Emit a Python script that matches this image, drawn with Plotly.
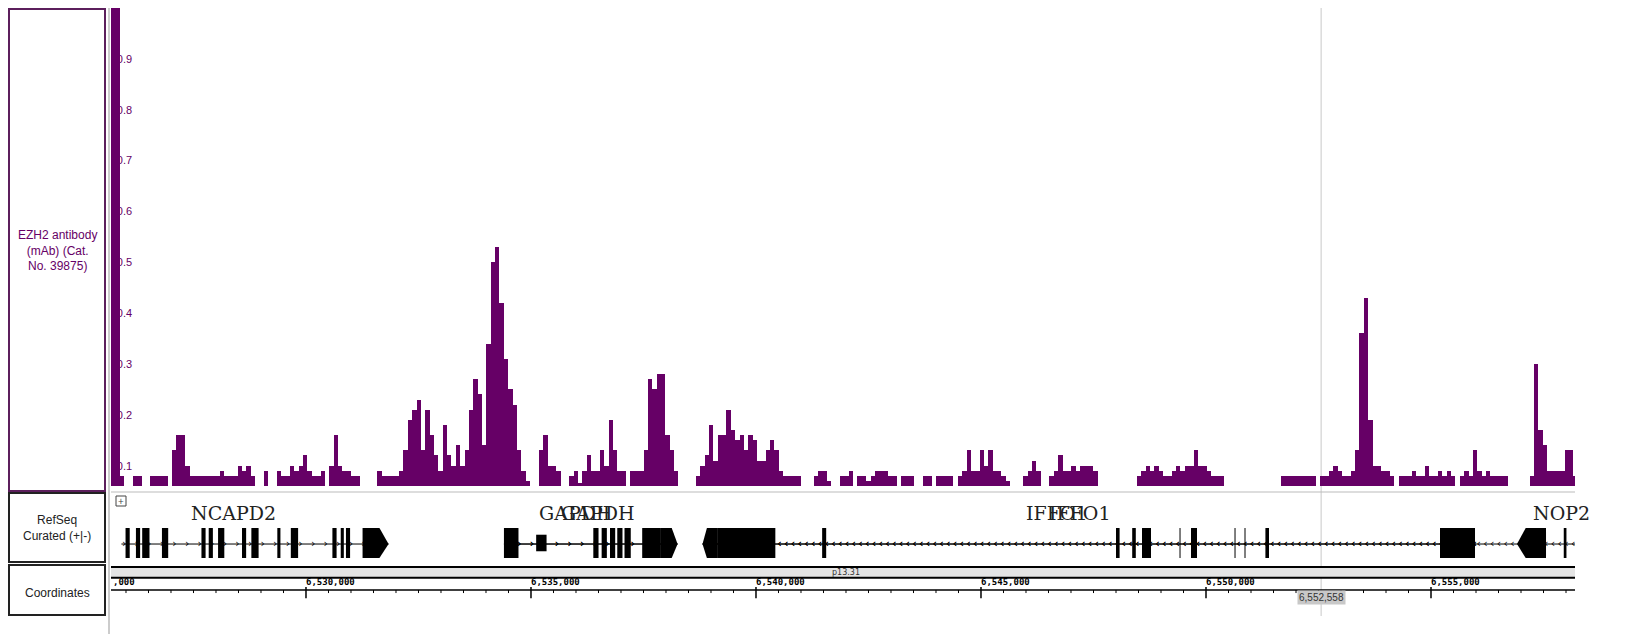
import plotly.graph_objects as go

W, H = 1629, 634
# ---------------- data ----------------
track_label = "EZH2 antibody<br>(mAb) (Cat.<br>No. 39875)"
view_start, view_end = 6525667, 6558200
bin_size = 97
cursor_pos = 6552558
signal = [
 1.05,1.05,0.08,0,0,0.08,0.08,0,0,0.08,0.08,0.08,0.08,0,0.13,0.16,0.16,0.10,
 0.08,0.08,0.08,0.08,0.08,0.08,0.08,0.09,0.08,0.08,0.08,0.10,0.09,0.10,0.08,0,0,
 0.09,0,0,0.09,0.08,0.08,0.10,0.09,0.10,0.12,0.09,0.08,0.08,0.09,0,0.10,0.16,0.10,
 0.09,0.09,0.08,0.08,0,0,0,0,0.09,0.08,0.08,0.08,0.08,0.09,0.13,0.19,0.21,0.23,
 0.13,0.21,0.16,0.12,0.09,0.18,0.12,0.10,0.14,0.10,0.13,0.21,0.27,0.24,0.14,0.34,
 0.50,0.53,0.42,0.31,0.25,0.22,0.13,0.09,0.07,0,0,0.13,0.16,0.10,0.10,0.09,0,0,
 0.08,0.09,0.065,0.09,0.12,0.09,0.09,0.13,0.10,0.19,0.13,0.09,0.09,0,0.09,0.09,
 0.09,0.13,0.27,0.25,0.28,0.28,0.16,0.13,0.09,0,0,0,0,0.08,0.10,0.12,0.18,0.11,
 0.16,0.16,0.21,0.17,0.15,0.16,0.13,0.16,0.15,0.11,0.11,0.13,0.15,0.13,0.09,0.08,
 0.08,0.08,0.08,0,0,0,0.08,0.09,0.09,0.07,0,0,0.08,0.08,0.09,0,0.08,0.08,0.07,
 0.08,0.09,0.09,0.09,0.08,0.08,0,0.08,0.08,0.08,0,0,0.08,0.08,0,0.08,0.08,0.08,
 0.08,0,0.08,0.09,0.13,0.09,0.09,0.13,0.10,0.13,0.09,0.09,0.08,0.07,0,0,0,0.08,
 0.09,0.11,0.09,0,0,0.08,0.09,0.12,0.09,0.09,0.10,0.09,0.10,0.10,0.10,0.09,0,
 0,0,0,0,0,0,0,0,0.08,0.09,0.10,0.09,0.10,0.09,0.08,0.08,0.09,0.10,0.09,0.10,0.10,
 0.13,0.10,0.10,0.09,0.08,0.08,0.08,0,0,0,0,0,0,0,0,0,0,0,0,0,
 0.08,0.08,0.08,0.08,0.08,0.08,0.08,0.08,0,0.08,0.08,0.09,0.10,0.09,0.08,0.08,0.09,
 0.13,0.36,0.43,0.19,0.10,0.10,0.09,0.09,0.08,0,0.08,0.08,0.08,0.09,0.08,0.08,0.10,
 0.08,0.08,0.09,0.08,0.09,0.08,0,0.08,0.09,0.08,0.13,0.09,0.08,0.09,0.08,0.08,0.08,
 0.08,0,0,0,0,0,0.08,0.30,0.17,0.14,0.09,0.09,0.09,0.09,0.13,0.13,0.08,0,0,0,0,
]
y_ticks = [0.1,0.2,0.3,0.4,0.5,0.6,0.7,0.8,0.9]

# genes: (name, strand, line start, line end, label pos)
genes = [
 ("NCAPD2", "+", 6525898, 6531835, 6528400),
 ("GAPDH", "+", 6534399, 6538257, 6536000),
 ("GAPDH", "+", 6534399, 6538257, 6536500),
 ("IFFO1", "-", 6538812, 6556000, 6546700),
 ("IFFO1", "-", 6538812, 6556000, 6547200),
 ("NOP2", "-", 6556000, 6558200, 6557900),
]
exon_start = [6525990,6526221,6526360,6526799,6527677,6527838,6528046,6528578,6528786,
              6529363,6529663,6530587,6530772,6530888,6531257,
              6534399,6536385,6536570,6536755,6536917,6537078,6537471,6537887,
              6538812,6539136,6541470,6548000,6548360,6548578,6549667,6551320,6555200,
              6556911,6557950]
exon_end   = [6526083,6526314,6526522,6526938,6527769,6527931,6528185,6528670,6528947,
              6529432,6529825,6530680,6530841,6530980,6531835,
              6534722,6536501,6536686,6536871,6537033,6537217,6537887,6538257,
              6539136,6540430,6541560,6548080,6548440,6548778,6549800,6551400,6555978,
              6557556,6558010]
exon_kind  = ["e"]*14 + ["utr_r"] + ["e"]*7 + ["arrow_r"] + ["arrow_l"] + ["e"]*8 + ["arrow_le"] + ["e"]
small_exon = [(6535115, 6535346)]
thin_exon = [6549423, 6550645, 6550867]
ruler_major = [6530000, 6535000, 6540000, 6545000, 6550000, 6555000]
band_label = "p13.31"

# ---------------- figure ----------------
def px_x(x): return x / W
def px_y(y): return 1 - y / H

PX0, PX1 = 103, 1567
fig = go.Figure()
xs = [view_start + bin_size * i + bin_size / 2 for i in range(len(signal))]
fig.add_trace(go.Bar(x=xs, y=signal, width=bin_size, marker=dict(color="#660066", line_width=0),
                     xaxis="x", yaxis="y", showlegend=False))

GL = 0.275
for name, strand, s, e, lab in genes:
    fig.add_trace(go.Scatter(x=[s, e], y=[GL, GL], mode="lines", line=dict(color="black", width=1),
                             xaxis="x2", yaxis="y2", showlegend=False, hoverinfo="skip"))
    step = 150 if strand == "-" else 280
    pts = list(range(s + 60, e, step))
    fig.add_trace(go.Scatter(x=pts, y=[GL] * len(pts), mode="text", text=["‹" if strand == "-" else "›"] * len(pts),
                             textfont=dict(size=11, color="black", family="DejaVu Sans"),
                             xaxis="x2", yaxis="y2", showlegend=False, hoverinfo="skip"))
for name, strand, s, e, lab in genes:
    fig.add_annotation(x=lab, y=0.72, xref="x2", yref="y2", text=name, showarrow=False,
                       font=dict(family="DejaVu Serif", size=19, color="#222"), xanchor="center")

shapes = []
top, bot = 0.507, 0.072
for s, e, k in zip(exon_start, exon_end, exon_kind):
    if k == "e":
        shapes.append(dict(type="rect", xref="x2", yref="y2", x0=s, x1=e, y0=bot, y1=top, fillcolor="black", line_width=0))
    elif k in ("utr_r", "arrow_r"):
        tip = (e - s) * 0.35
        path = f"M{s},{bot} L{e-tip},{bot} L{e},{GL} L{e-tip},{top} L{s},{top} Z"
        shapes.append(dict(type="path", xref="x2", yref="y2", path=path, fillcolor="black", line_width=0))
    else:
        tip = min((e - s) * 0.3, 300)
        path = f"M{e},{bot} L{s+tip},{bot} L{s},{GL} L{s+tip},{top} L{e},{top} Z"
        shapes.append(dict(type="path", xref="x2", yref="y2", path=path, fillcolor="black", line_width=0))
for s, e in small_exon:
    shapes.append(dict(type="rect", xref="x2", yref="y2", x0=s, x1=e, y0=0.17, y1=0.41, fillcolor="black", line_width=0))
for t in thin_exon:
    shapes.append(dict(type="line", xref="x2", yref="y2", x0=t, x1=t, y0=bot, y1=top, line=dict(color="black", width=1)))

# coordinates track
shapes += [
    dict(type="rect", xref="paper", yref="y3", x0=px_x(PX0), x1=px_x(PX1), y0=0.76, y1=0.95, fillcolor="#e4e4e4", line_width=0),
    dict(type="line", xref="paper", yref="y3", x0=px_x(PX0), x1=px_x(PX1), y0=0.96, y1=0.96, line=dict(color="black", width=2)),
    dict(type="line", xref="paper", yref="y3", x0=px_x(PX0), x1=px_x(PX1), y0=0.75, y1=0.75, line=dict(color="black", width=2)),
    dict(type="line", xref="paper", yref="y3", x0=px_x(PX0), x1=px_x(PX1), y0=0.51, y1=0.51, line=dict(color="black", width=1.5)),
]
minor = list(range(6526000, view_end, 500))
for m in minor:
    big = m in ruler_major
    shapes.append(dict(type="line", xref="x3", yref="y3", x0=m, x1=m,
                       y0=0.35 if big else 0.45, y1=0.57 if big else 0.51,
                       line=dict(color="black", width=1.5 if big else 1)))
for m in ruler_major:
    fig.add_annotation(x=m, y=0.66, xref="x3", yref="y3", text=f"<b>{m:,}</b>", showarrow=False, xanchor="left",
                       font=dict(family="DejaVu Sans Mono", size=9, color="black"), xshift=-2)
fig.add_annotation(x=view_start, y=0.66, xref="x3", yref="y3", text="<b>,000</b>", showarrow=False, xanchor="left",
                   font=dict(family="DejaVu Sans Mono", size=9, color="black"))
fig.add_annotation(x=6542000, y=0.86, xref="x3", yref="y3", text=band_label, showarrow=False,
                   font=dict(family="DejaVu Sans", size=8, color="#333"))
fig.add_annotation(x=cursor_pos, y=0.22, xref="x3", yref="y3", text=f"{cursor_pos:,}", showarrow=False,
                   bgcolor="#c8c8c8", font=dict(family="Liberation Sans", size=10, color="#333"), xanchor="center", yanchor="bottom")

shapes.append(dict(type="line", xref="x", yref="paper", x0=cursor_pos, x1=cursor_pos, y0=px_y(608), y1=1,
                   line=dict(color="#c8c8c8", width=1), layer="below"))

# left panels
panel_border = [("#5c1f5c", 1, 483), ("#222", 485, 554), ("#222", 557, 607)]
for col, y0, y1 in panel_border:
    shapes.append(dict(type="rect", xref="paper", yref="paper", x0=px_x(1), x1=px_x(97),
                       y0=px_y(y1), y1=px_y(y0), line=dict(color=col, width=2), fillcolor="rgba(0,0,0,0)"))
shapes.append(dict(type="line", xref="paper", yref="paper", x0=px_x(101), x1=px_x(101), y0=0, y1=1,
                   line=dict(color="#999", width=1)))
shapes.append(dict(type="line", xref="paper", yref="paper", x0=px_x(PX0), x1=px_x(PX1), y0=px_y(484), y1=px_y(484),
                   line=dict(color="#bbb", width=1)))
shapes.append(dict(type="rect", xref="paper", yref="paper", x0=px_x(108), x1=px_x(118), y0=px_y(498), y1=px_y(488),
                   line=dict(color="#444", width=1)))
fig.add_annotation(x=px_x(113), y=px_y(493), xref="paper", yref="paper", text="+", showarrow=False,
                   xanchor="center", yanchor="middle", font=dict(size=10, color="#444"))

for txt, yc, col in [(track_label, 242, "#660066"), ("RefSeq<br>Curated (+|-)", 520, "#222"), ("Coordinates", 585, "#222")]:
    fig.add_annotation(x=px_x(49), y=px_y(yc), xref="paper", yref="paper", text=txt, showarrow=False,
                       xanchor="center", yanchor="middle",
                       font=dict(family="Liberation Sans", size=12, color=col), align="center")

fig.update_layout(
    width=W, height=H, margin=dict(l=0, r=0, t=0, b=0), paper_bgcolor="white", plot_bgcolor="white",
    bargap=0, shapes=shapes,
    xaxis=dict(domain=[px_x(PX0), px_x(PX1)], range=[view_start, view_end], visible=False, anchor="y"),
    yaxis=dict(domain=[px_y(478), 1], range=[0.06, 1.0], tickvals=y_ticks, ticktext=[str(v) for v in y_ticks],
               ticks="inside", ticklen=5, tickcolor="#660066", ticklabelposition="inside",
               tickfont=dict(size=11, color="#660066", family="Liberation Sans"), showgrid=False, zeroline=False,
               showline=False, anchor="x"),
    xaxis2=dict(domain=[px_x(PX0), px_x(PX1)], range=[view_start, view_end], visible=False, anchor="y2", matches="x"),
    yaxis2=dict(domain=[px_y(555), px_y(486)], range=[0, 1], visible=False, anchor="x2"),
    xaxis3=dict(domain=[px_x(PX0), px_x(PX1)], range=[view_start, view_end], visible=False, anchor="y3", matches="x"),
    yaxis3=dict(domain=[px_y(608), px_y(557)], range=[0, 1], visible=False, anchor="x3"),
)
fig.write_html("out.html")
